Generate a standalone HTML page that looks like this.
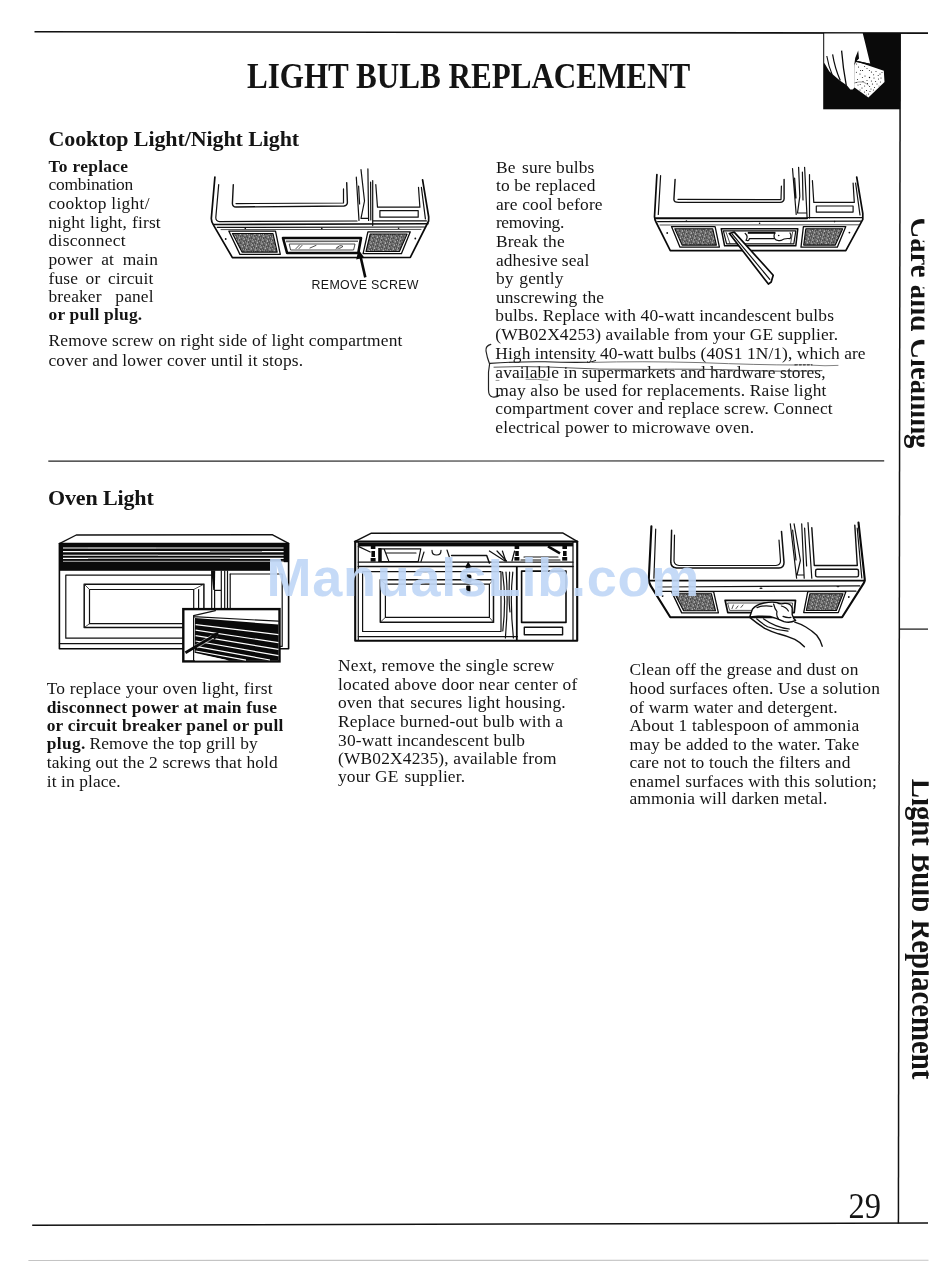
<!DOCTYPE html>
<html><head><meta charset="utf-8"><title>Light Bulb Replacement</title>
<style>
html,body{margin:0;padding:0;background:#fff;}
body{width:950px;height:1268px;overflow:hidden;position:relative;font-family:"Liberation Serif",serif;}
svg{position:absolute;left:0;top:0;display:block;will-change:transform;}
text{font-family:"Liberation Serif",serif;fill:#141414;}
text.sans{font-family:"Liberation Sans",sans-serif;}
.ln{fill:none;stroke:#111;stroke-width:1.2;stroke-linecap:round;stroke-linejoin:round;}
.tk{fill:none;stroke:#0a0a0a;stroke-width:2;stroke-linecap:round;stroke-linejoin:round;}
.th{fill:none;stroke:#222;stroke-width:0.8;stroke-linecap:round;stroke-linejoin:round;}
.bk{fill:#0a0a0a;stroke:none;}
.wh{fill:#fff;stroke:none;}
</style></head>
<body>
<svg width="950" height="1268" viewBox="0 0 950 1268">
<defs>
<pattern id="hatch" width="4.6" height="3.8" patternUnits="userSpaceOnUse" patternTransform="rotate(14)">
<rect width="4.6" height="3.8" fill="#fff"/>
<path d="M0,.6 H1.7 M2.4,.6 H4.1 M.9,1.9 H2.8 M3.4,1.9 H4.6 M0,3.2 H1.2 M1.9,3.2 H3.7" stroke="#111" stroke-width=".95" fill="none"/>
<path d="M.8,0 V1.2 M3,1.3 V2.6 M1.6,2.6 V3.8 M4,2.8 V3.8" stroke="#222" stroke-width=".7" fill="none"/>
</pattern>
</defs>
<!-- page frame rules -->
<g id="frame">
<line x1="34.5" y1="31.7" x2="928" y2="33.1" stroke="#111" stroke-width="1.6"/>
<line x1="900.2" y1="33" x2="898.4" y2="1223.5" stroke="#111" stroke-width="1.5"/>
<line x1="48.3" y1="461.2" x2="884.2" y2="460.8" stroke="#222" stroke-width="1.2"/>
<line x1="899.3" y1="629.1" x2="928" y2="629.1" stroke="#111" stroke-width="1.2"/>
<line x1="32.2" y1="1225.2" x2="928" y2="1223" stroke="#111" stroke-width="1.5"/>
<line x1="28.4" y1="1260.5" x2="928.5" y2="1260.2" stroke="#c4c4c4" stroke-width="1.1"/>
<!-- vertical tab labels -->
<clipPath id="c1"><rect x="900" y="200" width="24.4" height="270"/></clipPath>
<clipPath id="c2"><rect x="900" y="760" width="28.7" height="340"/></clipPath>
<g clip-path="url(#c1)"><text transform="translate(911,217.5) rotate(90)" font-size="33" font-weight="bold" textLength="231" lengthAdjust="spacingAndGlyphs">Care and Cleaning</text></g>
<g clip-path="url(#c2)"><text transform="translate(912.2,778.8) rotate(90)" font-size="33" font-weight="bold" textLength="300.5" lengthAdjust="spacingAndGlyphs">Light Bulb Replacement</text></g>
</g>

<!-- care & cleaning icon: hand with sponge -->
<g id="icon">
<rect x="823.2" y="33" width="77" height="76.3" class="bk"/>
<!-- hand -->
<path class="wh" d="M824.2,33.6 L862.8,33.6 L865.3,43.6 L868.2,55.4 L870.2,63.8 L858,61 L854.3,64 L854.4,87.8 L852.6,89.6 L850.3,89.4 L847,85.6 L839.5,80.2 L829.4,71.4 L824.2,62.7 Z"/>
<!-- sponge -->
<path class="wh" d="M855.9,61.2 L883.8,70.8 L884.5,81.9 L868.4,97.6 L854.2,87.2 L854.3,64.2 Z"/>
<!-- finger separators -->
<path d="M826.8,56 Q828.5,66 832.2,74.6" fill="none" stroke="#0a0a0a" stroke-width="1.1"/>
<path d="M832.6,54.4 Q834.8,68 840.3,80.6" fill="none" stroke="#0a0a0a" stroke-width="1.2"/>
<path d="M841.6,50.6 Q843,68 846.3,85.6" fill="none" stroke="#0a0a0a" stroke-width="1.3"/>
<path class="bk" d="M858.2,50.6 L855.2,58 L854.2,65.4 L856.2,61.4 L859,58.6 Z"/>
<!-- sponge edges & dots -->
<path d="M855.9,61.4 L870,64.4" fill="none" stroke="#0a0a0a" stroke-width="1.3"/>
<path d="M854.2,83 Q859,81.4 863,82 Q866.6,83.4 868.6,85.4" fill="none" stroke="#555" stroke-width="0.6"/>
<g fill="#0a0a0a">
<circle cx="858.5" cy="67" r=".55"/><circle cx="862.5" cy="70.5" r=".6"/><circle cx="867" cy="68.5" r=".5"/><circle cx="871.5" cy="72" r=".6"/>
<circle cx="876" cy="71.5" r=".5"/><circle cx="880" cy="74" r=".55"/><circle cx="860" cy="74" r=".6"/><circle cx="865" cy="76" r=".55"/>
<circle cx="869.5" cy="77.5" r=".7"/><circle cx="874" cy="78" r=".55"/><circle cx="878.5" cy="79" r=".5"/><circle cx="857.5" cy="79.5" r=".5"/>
<circle cx="863" cy="81.5" r=".55"/><circle cx="867.5" cy="83.5" r=".55"/><circle cx="872.5" cy="84" r=".6"/><circle cx="877" cy="84" r=".5"/>
<circle cx="858" cy="85" r=".5"/><circle cx="862" cy="88" r=".55"/><circle cx="866.5" cy="90.5" r=".55"/><circle cx="871" cy="89" r=".5"/>
<circle cx="868.5" cy="94" r=".5"/><circle cx="874.5" cy="87.5" r=".5"/><circle cx="881" cy="78" r=".5"/><circle cx="864.5" cy="92" r=".5"/>
<circle cx="856.6" cy="64" r=".5"/><circle cx="860.5" cy="70.6" r=".5"/><circle cx="864.6" cy="66.6" r=".5"/><circle cx="869.4" cy="70.4" r=".5"/><circle cx="873.6" cy="74.8" r=".5"/><circle cx="878.2" cy="75.6" r=".5"/><circle cx="882" cy="72.6" r=".5"/><circle cx="856.4" cy="72.2" r=".5"/><circle cx="862.4" cy="77.6" r=".5"/><circle cx="867" cy="80.4" r=".5"/><circle cx="871.4" cy="81" r=".5"/><circle cx="875.6" cy="81.4" r=".5"/><circle cx="880.4" cy="82" r=".5"/><circle cx="856.2" cy="82.4" r=".5"/><circle cx="860.2" cy="84.6" r=".5"/><circle cx="864.6" cy="86" r=".5"/><circle cx="869.6" cy="86.6" r=".5"/><circle cx="870" cy="91.6" r=".5"/><circle cx="873.4" cy="90" r=".5"/><circle cx="860" cy="90" r=".5"/><circle cx="866.6" cy="95" r=".45"/><circle cx="879" cy="86" r=".45"/>
</g>
</g>

<!-- drawing 1: underside of microwave, remove screw -->
<g id="d1">
<path class="tk" style="stroke-width:1.7" d="M214.9,177 L211.3,218.6 Q211.3,222.4 213.8,225.6 L232.4,257.6 L410.3,257.4 L428.6,221 L428.7,217 L422.6,179.8"/>
<path class="ln" d="M218.7,184.6 L215.8,217.6 Q215.8,221.4 219.6,221.6 L357,221"/>
<path class="ln" style="stroke-width:1.6" d="M213.4,224.5 L428,223.7"/>
<path class="ln" d="M217.3,227.4 L424.5,227"/>
<path class="th" d="M221,229.6 L421,229.4"/>
<!-- door window -->
<path class="ln" style="stroke-width:1.4" d="M233.3,184.6 L232.4,203.4 Q232.5,206.8 236,207 L344,206 Q347.4,205.6 347.4,202.6 L346.7,182.6"/>
<path class="ln" d="M236,203.6 L343.5,203 L343.5,188.8"/>
<!-- divider / handle -->
<path class="ln" d="M356.3,177.2 L359,220.4 M361,169.6 L364.5,201 M367.9,168.9 L368.6,220.4 M372.7,180.6 L372.7,225.6 M364.5,201 L361,218.4 L368.4,218.4 M358.6,186 L359.6,204 M370.6,182 L370.8,220"/>
<!-- right panel -->
<path class="ln" d="M375.8,184.6 L377.5,207.2 L419.9,207.2 L418.5,187.4"/>
<rect class="ln" x="379.9" y="210.6" width="38.3" height="6.6"/>
<path class="ln" d="M421.4,187.4 L425.4,218.8 M373,220.9 L426.4,220.9"/>
<!-- filters -->
<polygon points="228.9,231.2 275.5,231.2 280.3,254.4 239.9,254.4" fill="#fff" stroke="#0a0a0a" stroke-width="1.3" stroke-linejoin="round"/><polygon points="232.4,233.5 273.0,233.5 277.2,252.1 242.0,252.1" fill="url(#hatch)" stroke="#0a0a0a" stroke-width="1.1" stroke-linejoin="round"/>
<polygon points="367.9,231.8 410.3,231.8 401.4,253.7 363.1,253.7" fill="#fff" stroke="#0a0a0a" stroke-width="1.3" stroke-linejoin="round"/><polygon points="370.2,234.0 407.1,234.0 399.4,251.5 366.0,251.5" fill="url(#hatch)" stroke="#0a0a0a" stroke-width="1.1" stroke-linejoin="round"/>
<!-- light compartment -->
<path d="M283,238 L361,238 L358.3,253 L287.1,253 Z" fill="#fff" stroke="#0a0a0a" stroke-width="2.6" stroke-linejoin="round"/>
<path d="M286,241.4 L358,241.2" stroke="#666" stroke-width="1.6" fill="none"/>
<path class="th" d="M289.6,244 L355,244 L353.6,250 L291,250 Z"/>
<path class="th" d="M296,248.6 L299.5,245 M299,248.6 L302,245.4 M310,248 L316,245.4 M336,248.6 Q340,244 343,246.4 Q340,249.4 337,248"/>
<!-- screws -->
<g fill="#111"><circle cx="225.7" cy="239" r=".9"/><circle cx="415.3" cy="238.5" r=".9"/><circle cx="245.3" cy="228.4" r=".8"/><circle cx="321.8" cy="228.4" r=".8"/><circle cx="398.6" cy="228.2" r=".8"/></g>
<!-- arrow -->
<path d="M365.3,277.4 L360.2,255" stroke="#0a0a0a" stroke-width="2.6" fill="none"/>
<path class="bk" d="M358.6,249.4 L356.2,259.4 L364.2,257.6 Z"/>
</g>

<!-- drawing 2: underside, light cover lowered -->
<g id="d2">
<path class="tk" style="stroke-width:1.7" d="M656.9,174.5 L654.5,216.8 Q654.6,219.6 656,222 L670.3,250.6 L845.8,250.6 L862.8,219.3 L862.8,213.3 L856.7,177"/>
<path class="ln" d="M660.6,175.7 L658.3,214.5"/>
<path class="tk" style="stroke-width:2.1" d="M655.4,218.2 L807,218.2"/>
<path class="ln" d="M807,217.6 L862,217.6 M657.6,221.6 L861,221.2"/>
<path class="th" d="M660,225 L858.6,224.8"/>
<!-- window -->
<path class="ln" style="stroke-width:1.4" d="M675.1,179.4 L673.9,199.4 Q674,202.2 678.7,202.4 L780,202.4 Q784,202 784.1,198.7 L784.1,179.4"/>
<path class="ln" d="M678,199.4 L781,199.6 L781.4,186"/>
<!-- divider -->
<path class="ln" d="M792.5,168.5 L796.2,214.5 M798.6,167.3 L799.8,196.3 M804.6,167.3 L807.1,218.1 M809.5,174.5 L809.5,218.1 M799.8,196.3 L797.5,213 L806,213 M794.6,178 L796,198 M802.4,172 L803,200"/>
<!-- right panel -->
<path class="ln" d="M812.4,180.6 L813.8,202.4 L854.3,202.4 L853.1,183"/>
<rect class="ln" x="816.3" y="206" width="36.8" height="6.1"/>
<path class="ln" d="M855.6,183 L860,215"/>
<!-- filters -->
<polygon points="671.5,226.6 715.1,226.6 719.4,247.2 680.0,247.2" fill="#fff" stroke="#0a0a0a" stroke-width="1.3" stroke-linejoin="round"/><polygon points="674.8,228.7 712.7,228.7 716.4,245.1 682.1,245.1" fill="url(#hatch)" stroke="#0a0a0a" stroke-width="1.1" stroke-linejoin="round"/>
<polygon points="803.4,226.6 845.8,226.6 837.3,247.2 801.0,247.2" fill="#fff" stroke="#0a0a0a" stroke-width="1.3" stroke-linejoin="round"/><polygon points="805.8,228.7 842.7,228.7 835.3,245.1 803.7,245.1" fill="url(#hatch)" stroke="#0a0a0a" stroke-width="1.1" stroke-linejoin="round"/>
<!-- light compartment -->
<path d="M721.2,228.7 L797.8,228.7 L795.8,245.8 L724.6,245.8 Z" fill="#fff" stroke="#0a0a0a" stroke-width="1.5" stroke-linejoin="round"/>
<path class="ln" d="M723.4,230.8 L795.8,230.8 L793.8,243.8 L726.6,243.8 Z"/>
<!-- bulbs -->
<path d="M747.8,232.8 H775.4" stroke="#0a0a0a" stroke-width="2" fill="none"/>
<path class="ln" d="M745.2,233.4 Q748.6,236 746,240.2 Q749,241.4 749.4,238.6 H774.6 Q776,241.4 781,240.4 Q784.4,238 790,238.6 Q792,236 790,233 M774.8,233 Q773.4,236 774.6,238.6"/>
<circle cx="778.7" cy="235.5" r=".8" fill="#111"/>
<path class="th" d="M726,232 L730,243.6 M792.6,232 L790.6,243.6"/>
<!-- lowered cover -->
<path d="M729.4,233.5 L734.2,232.1 L773.2,275.2 L771.2,282 L768.4,284.1 Z" fill="#fff" stroke="#0a0a0a" stroke-width="1.7" stroke-linejoin="round"/>
<path class="ln" d="M732.2,234.2 L769.8,279.3"/>
<!-- screws -->
<g fill="#111"><circle cx="667.2" cy="233" r=".9"/><circle cx="849.4" cy="232.6" r=".9"/><circle cx="686.4" cy="221" r=".8"/><circle cx="759.6" cy="223.2" r=".8"/><circle cx="834.6" cy="221.6" r=".8"/></g>
</g>

<!-- drawing 3: oven front with top grill + inset -->
<g id="d3">
<path class="ln" style="stroke-width:1.4" d="M59.4,543.6 L76.3,535 L272.6,534.8 L288.6,543.4"/>
<rect class="tk" style="stroke-width:1.6" x="59.4" y="543.6" width="229.2" height="105.2"/>
<!-- grill band -->
<rect class="bk" x="59.4" y="543.2" width="229.2" height="19"/>
<rect class="bk" x="59.4" y="560.6" width="210.6" height="10.2"/>
<g stroke="#fff" stroke-width="1.15" fill="none">
<path d="M63,548 H283.6 M63,551.6 H283.6 M63,555.2 H283.6 M63,558.3 H283.6"/>
</g>
<path d="M63,561.3 H283.6" stroke="#ddd" stroke-width=".8" fill="none"/>
<path d="M88,548 H156 M210,551.6 H262 M120,555.2 H158 M88,558.3 H230" stroke="#999" stroke-width="1.1" fill="none"/>
<rect x="270" y="562.2" width="14" height="1" fill="#fff"/>
<!-- door -->
<path class="ln" d="M65.8,575.2 H211.6 M65.8,575.2 V638.2 H183"/>
<path class="ln" d="M59.4,643.6 H183"/>
<rect class="ln" style="stroke-width:1.5" x="84.2" y="584.2" width="119.7" height="43.4"/>
<rect class="ln" x="89.5" y="589.5" width="104.2" height="34.2"/>
<path class="th" d="M84.2,584.2 L89.5,589.5 M203.9,584.2 L193.7,589.5 M84.2,627.6 L89.5,623.7 M203.9,627.6 L193.7,623.7"/>
<path class="ln" d="M198.6,589.5 V609"/>
<!-- handle -->
<path class="bk" d="M211.2,570.6 L215.2,570.6 L214.9,590 L213.3,590 Z"/>
<path class="ln" d="M211.7,571 V609 M214.6,590 V609 M221.3,571 V609 M224.7,571 V609 M227.5,571 V609 M230.2,574 V609 M214.6,590.4 H221.3"/>
<!-- control panel -->
<path class="ln" d="M230.2,574 H282.2 V646 M279.6,646.4 H282.2"/>
<!-- inset -->
<rect x="183.3" y="609.1" width="96.2" height="52.3" fill="#fff" stroke="#0a0a0a" stroke-width="2.4"/>
<path class="bk" d="M195,618 L278.4,624.6 L278.4,660.4 L229,660.4 L194.6,652.8 Z"/>
<path class="ln" d="M193.6,615.6 V660.4 M193.6,615.6 L215.4,610.6 M193.6,616.6 L278.4,621.2"/>
<g stroke="#fff" stroke-width="1.2" fill="none">
<path d="M195.6,624.6 L278.4,634.6 M195.6,630.2 L278.4,642.6 M195.6,635.6 L278.4,649.4 M195.6,641 L278.4,655.6 M195.6,646.4 L270,660 M195.6,651 L246,660.2"/>
</g>
<path class="wh" d="M195,653.4 L229,660.4 L195,660.4 Z"/>
<path d="M196,646.6 L216.4,634.4" stroke="#fff" stroke-width="4.6" fill="none" opacity=".55"/>
<path d="M185.4,652.8 L216.4,634.4" stroke="#0a0a0a" stroke-width="2.8" fill="none"/>
<path class="bk" d="M219.6,631.6 L210.6,634.4 L214.8,640 Z"/>
</g>

<!-- drawing 4: oven front, grill removed, screw -->
<g id="d4">
<path class="ln" style="stroke-width:1.5" d="M354.6,541.6 L371.4,533.2 L562.6,532.9 L577.6,541.6"/>
<rect class="tk" style="stroke-width:2.1" x="355.2" y="541.6" width="222" height="99.2"/>
<path class="ln" d="M358.3,542 V640 M573,542 V640"/>
<!-- top compartment -->
<rect class="bk" x="358.3" y="543" width="214.7" height="3.4"/>
<path class="ln" d="M358.3,546.4 L370.2,552 M358.3,562.2 H573"/>
<path class="ln" style="stroke-width:1.6" d="M358.3,566.5 H573"/>
<!-- bolts -->
<g class="bk"><rect x="370.8" y="545" width="4.6" height="4"/><rect x="371.4" y="551" width="3.6" height="6"/><rect x="370.6" y="558" width="5" height="3.6"/>
<rect x="514.6" y="545" width="4.6" height="4"/><rect x="515.2" y="551" width="3.6" height="5"/><rect x="514.4" y="557" width="5" height="3.6"/>
<rect x="562.4" y="545" width="4.6" height="4"/><rect x="563" y="551" width="3.6" height="5"/><rect x="562.2" y="557" width="5" height="3.6"/></g>
<!-- box left -->
<path class="ln" d="M381,548.8 H420.8 L418.2,561.6 H381 Z M386,553 H416 M384,548.8 L389,561.6"/>
<path class="bk" d="M378.2,548 H381.4 V562 H378.2 Z"/>
<path class="ln" d="M432,550.4 Q432,555 436.5,555 Q441,555 441,550.4 M424,552 L421,561.6 M447,550 L451,562"/>
<!-- center box -->
<path class="ln" style="stroke-width:1.5" d="M451.6,555.6 H486.7 L489.4,563"/>
<path class="ln" d="M489.4,551 L505,561 M497,551 L506.5,561"/>
<path class="ln" d="M502.4,551 L505.8,561 M514.6,551 L512,561"/>
<!-- right stuff -->
<path class="ln" d="M521,560 H560 M524,557 L558,557"/>
<path d="M548,546.4 L560,553.4" stroke="#0a0a0a" stroke-width="2.4" fill="none"/>
<!-- screw -->
<path class="bk" d="M468.2,561.6 L471.6,567.4 H465 Z"/>
<rect class="bk" x="466.2" y="566" width="4" height="3.6"/>
<rect class="bk" x="465.4" y="574.4" width="6" height="8.4" rx="1.5"/>
<rect class="bk" x="466.2" y="585.4" width="4.2" height="8.2" rx="1"/>
<!-- door -->
<path class="ln" d="M362.6,571.6 H501 V631.5 H362.6 Z"/>
<path class="ln" d="M358.3,636.6 H517.5"/>
<rect class="ln" style="stroke-width:1.5" x="380.3" y="579.8" width="113.2" height="42.4"/>
<rect class="ln" x="385.4" y="584.2" width="104" height="33.2"/>
<path class="th" d="M380.3,579.8 L385.4,584.2 M493.5,579.8 L489.4,584.2 M380.3,622.2 L385.4,617.4 M493.5,622.2 L489.4,617.4"/>
<!-- handle -->
<path class="ln" d="M502.6,572 Q506.4,600 502.8,631 M506,572 Q508.6,601 505.4,638 M512.8,572 Q509.6,601 513.4,638 M509.6,572 Q508.4,600 510,612"/>
<!-- control panel -->
<path class="tk" style="stroke-width:1.8" d="M516.8,567 V640"/>
<rect class="tk" style="stroke-width:1.6" x="521.6" y="571.1" width="44.4" height="51.3"/>
<rect class="ln" style="stroke-width:1.4" x="524.3" y="627.2" width="38.3" height="7.5"/>
</g>

<!-- drawing 5: cleaning underside with cloth -->
<g id="d5">
<path class="tk" style="stroke-width:2.1" d="M651.4,526.4 L648.8,579 Q648.8,582.6 650.6,585.6 L670.3,617.3 L842.1,617.3 L863.6,583.4 Q865,581 864.7,578.6 L858.5,522.6"/>
<path class="ln" d="M655.7,529 L653.9,578.2"/>
<path class="tk" style="stroke-width:1.9" d="M649,580.6 L864.6,580.6"/>
<path class="ln" d="M657.7,587 L859.8,585.8"/>
<path class="ln" d="M662,591.4 L856,591.2"/>
<!-- window -->
<path class="ln" style="stroke-width:1.5" d="M671.6,530.2 L670.8,562.4 Q671,567.6 676.6,568.1 L779,568.1 Q784,567.5 784,562.4 L781.5,531.4"/>
<path class="ln" d="M674.5,535 L674,561 Q674.4,565 679,565.5 L776,565.5 Q780.5,565 780.5,561 L779,540"/>
<!-- divider -->
<path class="ln" d="M790.3,523.8 L796.6,578.2 M794.1,523.8 L800.4,560.5 M801.7,523.8 L804.2,578.2 M808,522.6 L811.8,578.2 M800.4,560.5 L797,575 L804,575 M792.6,530 L796,560 M804.6,528 L806.6,566"/>
<!-- right panel -->
<path class="ln" style="stroke-width:1.4" d="M811.8,527.6 L814.3,565.5 L857.3,565.5 L854.8,525.1"/>
<rect class="ln" style="stroke-width:1.4" x="815.6" y="569.3" width="42.9" height="7.6" rx="1.6"/>
<path class="ln" d="M857.2,528 L861.8,578"/>
<!-- filters -->
<polygon points="671.6,591.6 713.6,591.6 718.4,612.9 681.7,612.9" fill="#fff" stroke="#0a0a0a" stroke-width="1.3" stroke-linejoin="round"/><polygon points="674.8,593.7 711.4,593.7 715.5,610.8 683.6,610.8" fill="url(#hatch)" stroke="#0a0a0a" stroke-width="1.1" stroke-linejoin="round"/>
<polygon points="807.8,591.6 845.9,591.6 838.3,612.6 803.7,612.6" fill="#fff" stroke="#0a0a0a" stroke-width="1.3" stroke-linejoin="round"/><polygon points="809.9,593.7 843.0,593.7 836.4,610.5 806.3,610.5" fill="url(#hatch)" stroke="#0a0a0a" stroke-width="1.1" stroke-linejoin="round"/>
<!-- light compartment -->
<path d="M725.1,600.3 L795.5,600.3 L794.2,612.6 L727.8,612.6 Z" fill="#fff" stroke="#0a0a0a" stroke-width="1.7" stroke-linejoin="round"/>
<path class="th" d="M728,603 L792.6,603 L791.8,610.4 L730,610.4 Z M732,608.6 L733.4,605 M736,608.6 L738,606 M741,607.4 L743,605"/>
<!-- cloth -->
<path d="M749.7,617 L752.4,609.2 Q756,604.6 764,603 Q772,601.4 777,602.6 Q780,604.6 784.6,603.4 Q790.6,603 792.2,608 L792.2,614.6 Q793.4,619 795.6,620.4 Q790,623.4 784,621.6 Q778,618.6 770,616.4 L758,616.2 Z" fill="#fff" stroke="#0a0a0a" stroke-width="1.4" stroke-linejoin="round"/>
<path class="ln" d="M757,607.6 Q764,604.8 772,606.4 M773.6,604 Q774.8,609 777,611.6 Q776,616 778.4,618.6 M781.4,606 Q786,607 788.4,611 M783,616.4 Q787,618 791,617.4"/>
<!-- hand / arm -->
<path class="ln" style="stroke-width:1.4" d="M749.7,617.4 Q757,623.4 764.7,628.4 Q771,631.6 778.4,633.8 Q787,636 794.8,639.3 Q800.6,642.4 804.4,646.8"/>
<path class="ln" style="stroke-width:1.4" d="M794.8,622.2 Q800.6,624 805.8,627 Q812.4,631 816.7,635.2 Q820.6,640 822.2,646.2"/>
<path class="ln" d="M756.6,618.8 Q762,623.6 767.6,626.8 Q778,630.6 788,631.2 M763.4,618.8 Q770,623.6 775.8,625.6 Q783,628.4 789.4,629"/>
<!-- screws -->
<g fill="#111"><circle cx="662.6" cy="596" r=".9"/><circle cx="848.8" cy="597" r=".9"/><ellipse cx="761" cy="588.2" rx="1.6" ry=".7"/><ellipse cx="838" cy="586.6" rx="1.6" ry=".7"/><circle cx="690" cy="586" r=".7"/></g>
</g>

<g id="txt">
<text x="246.9" y="87.6" font-size="35.5" font-weight="bold" textLength="443.4" lengthAdjust="spacingAndGlyphs" xml:space="preserve">LIGHT BULB REPLACEMENT</text>
<text x="48.5" y="145.9" font-size="22" font-weight="bold" textLength="250.6" lengthAdjust="spacing" xml:space="preserve">Cooktop Light/Night Light</text>
<text x="48.0" y="504.8" font-size="22" font-weight="bold" textLength="105.8" lengthAdjust="spacing" xml:space="preserve">Oven Light</text>
<text x="48.5" y="171.9" font-size="17.4" font-weight="bold" textLength="79.6" lengthAdjust="spacing" xml:space="preserve">To replace</text>
<text x="48.5" y="190.1" font-size="17.4" textLength="84.8" lengthAdjust="spacing" xml:space="preserve">combination</text>
<text x="48.5" y="209.0" font-size="17.4" textLength="101.1" lengthAdjust="spacing" xml:space="preserve">cooktop light/</text>
<text x="48.5" y="227.6" font-size="17.4" letter-spacing="0.14">night</text>
<text x="90.0" y="227.6" font-size="17.4" letter-spacing="0.14">light,</text>
<text x="132.1" y="227.6" font-size="17.4" letter-spacing="0.14">first</text>
<text x="48.5" y="246.1" font-size="17.4" textLength="77.2" lengthAdjust="spacing" xml:space="preserve">disconnect</text>
<text x="48.5" y="265.3" font-size="17.4" letter-spacing="0.14">power</text>
<text x="101.2" y="265.3" font-size="17.4" letter-spacing="0.14">at</text>
<text x="122.7" y="265.3" font-size="17.4" letter-spacing="0.14">main</text>
<text x="48.5" y="283.6" font-size="17.4" letter-spacing="0.14">fuse</text>
<text x="85.6" y="283.6" font-size="17.4" letter-spacing="0.14">or</text>
<text x="108.0" y="283.6" font-size="17.4" letter-spacing="0.14">circuit</text>
<text x="48.5" y="301.8" font-size="17.4" letter-spacing="0.14">breaker</text>
<text x="115.3" y="301.8" font-size="17.4" letter-spacing="0.14">panel</text>
<text x="48.5" y="320.4" font-size="17.4" font-weight="bold" textLength="93.7" lengthAdjust="spacing" xml:space="preserve">or pull plug.</text>
<text x="48.5" y="346.3" font-size="17.4" textLength="353.9" lengthAdjust="spacing" xml:space="preserve">Remove screw on right side of light compartment</text>
<text x="48.5" y="365.6" font-size="17.4" textLength="254.5" lengthAdjust="spacing" xml:space="preserve">cover and lower cover until it stops.</text>
<text x="495.9" y="172.5" font-size="17.4" letter-spacing="0.14">Be</text>
<text x="522.0" y="172.5" font-size="17.4" letter-spacing="0.14">sure</text>
<text x="556.1" y="172.5" font-size="17.4" letter-spacing="0.14">bulbs</text>
<text x="495.9" y="191.3" font-size="17.4" textLength="99.5" lengthAdjust="spacing" xml:space="preserve">to be replaced</text>
<text x="495.9" y="210.0" font-size="17.4" textLength="106.7" lengthAdjust="spacing" xml:space="preserve">are cool before</text>
<text x="495.9" y="228.3" font-size="17.4" textLength="68.4" lengthAdjust="spacing" xml:space="preserve">removing.</text>
<text x="495.9" y="246.8" font-size="17.4" letter-spacing="0.14">Break</text>
<text x="543.1" y="246.8" font-size="17.4" letter-spacing="0.14">the</text>
<text x="495.9" y="266.2" font-size="17.4" letter-spacing="0.14">adhesive</text>
<text x="561.8" y="266.2" font-size="17.4" letter-spacing="0.14">seal</text>
<text x="495.9" y="284.1" font-size="17.4" letter-spacing="0.14">by</text>
<text x="519.3" y="284.1" font-size="17.4" letter-spacing="0.14">gently</text>
<text x="495.9" y="303.1" font-size="17.4" letter-spacing="0.14">unscrewing</text>
<text x="582.5" y="303.1" font-size="17.4" letter-spacing="0.14">the</text>
<text x="495.3" y="321.0" font-size="17.4" textLength="338.7" lengthAdjust="spacing" xml:space="preserve">bulbs. Replace with 40-watt incandescent bulbs</text>
<text x="495.3" y="339.6" font-size="17.4" textLength="342.9" lengthAdjust="spacing" xml:space="preserve">(WB02X4253) available from your GE supplier.</text>
<text x="495.3" y="359.0" font-size="17.4" textLength="370.3" lengthAdjust="spacing" xml:space="preserve">High intensity 40-watt bulbs (40S1 1N/1), which are</text>
<text x="495.3" y="377.9" font-size="17.4" textLength="330.3" lengthAdjust="spacing" xml:space="preserve">available in supermarkets and hardware stores,</text>
<text x="495.3" y="396.0" font-size="17.4" textLength="331.1" lengthAdjust="spacing" xml:space="preserve">may also be used for replacements. Raise light</text>
<text x="495.3" y="414.2" font-size="17.4" textLength="337.4" lengthAdjust="spacing" xml:space="preserve">compartment cover and replace screw. Connect</text>
<text x="495.3" y="432.6" font-size="17.4" textLength="258.7" lengthAdjust="spacing" xml:space="preserve">electrical power to microwave oven.</text>
<text x="46.7" y="693.9" font-size="17.4" textLength="225.8" lengthAdjust="spacing" xml:space="preserve">To replace your oven light, first</text>
<text x="46.7" y="712.5" font-size="17.4" font-weight="bold" textLength="230.2" lengthAdjust="spacing" xml:space="preserve">disconnect power at main fuse</text>
<text x="46.7" y="731.3" font-size="17.4" font-weight="bold" textLength="236.7" lengthAdjust="spacing" xml:space="preserve">or circuit breaker panel or pull</text>
<text x="46.7" y="749.3" font-size="17.4" font-weight="bold" textLength="38.6" lengthAdjust="spacing" xml:space="preserve">plug.</text>
<text x="89.5" y="749.3" font-size="17.4" textLength="168.2" lengthAdjust="spacing" xml:space="preserve">Remove the top grill by</text>
<text x="46.7" y="768.2" font-size="17.4" textLength="231.1" lengthAdjust="spacing" xml:space="preserve">taking out the 2 screws that hold</text>
<text x="46.7" y="786.7" font-size="17.4" textLength="74.0" lengthAdjust="spacing" xml:space="preserve">it in place.</text>
<text x="338.0" y="670.9" font-size="17.4" textLength="216.2" lengthAdjust="spacing" xml:space="preserve">Next, remove the single screw</text>
<text x="338.0" y="689.5" font-size="17.4" textLength="239.2" lengthAdjust="spacing" xml:space="preserve">located above door near center of</text>
<text x="338.0" y="708.4" font-size="17.4" letter-spacing="0.14">oven</text>
<text x="377.9" y="708.4" font-size="17.4" letter-spacing="0.14">that</text>
<text x="410.3" y="708.4" font-size="17.4" letter-spacing="0.14">secures</text>
<text x="467.8" y="708.4" font-size="17.4" letter-spacing="0.14">light</text>
<text x="505.2" y="708.4" font-size="17.4" letter-spacing="0.14">housing.</text>
<text x="338.0" y="726.6" font-size="17.4" textLength="225.1" lengthAdjust="spacing" xml:space="preserve">Replace burned-out bulb with a</text>
<text x="338.0" y="745.5" font-size="17.4" textLength="187.0" lengthAdjust="spacing" xml:space="preserve">30-watt incandescent bulb</text>
<text x="338.0" y="763.8" font-size="17.4" textLength="218.6" lengthAdjust="spacing" xml:space="preserve">(WB02X4235), available from</text>
<text x="338.0" y="782.4" font-size="17.4" letter-spacing="0.14">your</text>
<text x="375.0" y="782.4" font-size="17.4" letter-spacing="0.14">GE</text>
<text x="404.5" y="782.4" font-size="17.4" letter-spacing="0.14">supplier.</text>
<text x="629.5" y="675.4" font-size="17.4" textLength="228.9" lengthAdjust="spacing" xml:space="preserve">Clean off the grease and dust on</text>
<text x="629.5" y="693.9" font-size="17.4" textLength="250.4" lengthAdjust="spacing" xml:space="preserve">hood surfaces often. Use a solution</text>
<text x="629.5" y="712.8" font-size="17.4" textLength="208.2" lengthAdjust="spacing" xml:space="preserve">of warm water and detergent.</text>
<text x="629.5" y="730.8" font-size="17.4" textLength="229.7" lengthAdjust="spacing" xml:space="preserve">About 1 tablespoon of ammonia</text>
<text x="629.5" y="749.6" font-size="17.4" textLength="229.7" lengthAdjust="spacing" xml:space="preserve">may be added to the water. Take</text>
<text x="629.5" y="768.2" font-size="17.4" textLength="220.9" lengthAdjust="spacing" xml:space="preserve">care not to touch the filters and</text>
<text x="629.5" y="786.5" font-size="17.4" textLength="247.4" lengthAdjust="spacing" xml:space="preserve">enamel surfaces with this solution;</text>
<text x="629.5" y="804.2" font-size="17.4" textLength="197.9" lengthAdjust="spacing" xml:space="preserve">ammonia will darken metal.</text>
<text x="848.5" y="1218.2" font-size="36" textLength="32.4" lengthAdjust="spacingAndGlyphs" xml:space="preserve">29</text>
<text x="311.5" y="289.2" font-size="12.4" class="sans" textLength="107.0" lengthAdjust="spacing" xml:space="preserve">REMOVE SCREW</text>
</g>
<!-- handwritten pen marks -->
<g id="scribble" fill="none" stroke="#222" stroke-width="1" stroke-linecap="round">
<path d="M490.8,344.4 Q485.2,346 486,351 Q487,357.4 489.6,364 Q488,372 488.5,380 L488.5,390 Q488.6,396.4 492.6,397 Q497,397.4 499.6,395.2" stroke-width="1.2"/>
<path d="M490,363.4 Q520,361.4 545,361.8 Q570,362.6 589,362.2 Q593,361.6 595.6,360.4" stroke-width="1.1"/>
<path d="M592,362.4 Q640,361 700,362.6 Q760,365 795,365" stroke="#555" stroke-width=".8"/>
<path d="M795,364.8 h17" stroke-dasharray="2.4 1.6" stroke-width="1.3"/>
<path d="M812,365.2 Q825,366.2 838,365.4" stroke="#666" stroke-width=".8"/>
<path d="M494,367.2 Q520,366 548,367 Q600,370 650,369.4 Q700,368.6 745,370.4 Q790,372 822,370.6" stroke="#444" stroke-width=".9"/>
<path d="M496,380.4 h3 M526,379.4 Q538,379 548,380.2" stroke="#777" stroke-width=".8"/>
</g>

<!-- watermark -->
<text class="sans" x="266.6" y="596.2" font-size="54" font-weight="bold" style="fill:#c0d7f6;fill-opacity:.92" textLength="432.6" lengthAdjust="spacing">ManualsLib.com</text>
</svg>
</body></html>
